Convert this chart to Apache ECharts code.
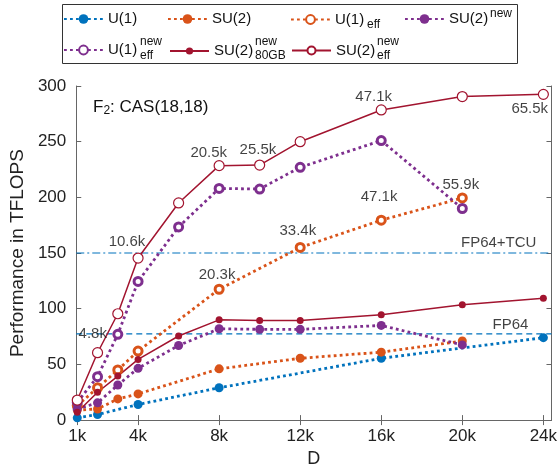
<!DOCTYPE html>
<html>
<head>
<meta charset="utf-8">
<script src="https://cdn.jsdelivr.net/npm/echarts@6/dist/echarts.min.js"></script>
<style>
  html, body { margin: 0; padding: 0; background: #fff; }
  #chart { width: 560px; height: 473px; }
</style>
</head>
<body>
<div id="chart"></div>
<script>
// Performance vs bond dimension D
const FONT = 'Liberation Sans, Arial, Helvetica, sans-serif'

const xTicks = [1000, 4000, 8000, 12000, 16000, 20000, 24000]
const xRange = [950, 24400]

const dU1 = [1000, 2000, 4000, 8000, 16000, 24000]
const valU1 = [2, 5, 14, 29, 55.5, 74]

const dSU2 = [1000, 2000, 3000, 4000, 8000, 12000, 16000, 20000]
const valSU2 = [9, 10, 19, 23.5, 46, 55.5, 61, 71]
const valU1eff = [13, 29, 45, 62, 117.5, 155, 179.5, 199.5]

const dNew = [1000, 2000, 3000, 4000, 6000, 8000, 10000, 12000, 16000, 20000]
const valSU2new = [10, 15.5, 31.5, 46.5, 67, 82, 81.5, 81.5, 85, 67.5]
const valU1newEff = [16, 39, 77, 124.5, 173.5, 208, 207.5, 227, 251, 190]

const dNew80 = [1000, 2000, 3000, 4000, 6000, 8000, 10000, 12000, 16000, 20000, 24000]
const valSU2new80 = [7, 25, 39.5, 54.5, 75.5, 90, 89.5, 89.5, 94.5, 103.5, 109.5]
const valSU2newEff = [18, 60.5, 95.5, 145.5, 195, 228.5, 229, 250, 278.5, 290.5, 292.5]

// hardware peaks: FP64+TCU, FP64
const refVals = [150, 77.5]

// text notes (data coordinates)
const noteD = [1762, 3454, 7487, 9916, 15626, 23328, 19926, 15893, 11884, 7900, 21797, 22380]
const noteVal = [77.8, 159.7, 240.2, 243.1, 290.5, 279.5, 211, 200.3, 170, 130.2, 158.8, 85.5]
const noteText = ['4.8k', '10.6k', '20.5k', '25.5k', '47.1k', '65.5k', '55.9k', '47.1k', '33.4k', '20.3k', 'FP64+TCU', 'FP64']

const BLUE = '#0072BD', ORANGE = '#D95319', PURPLE = '#7E2F8E', RED = '#A2142F'

function pairs(xs, ys) {
  return xs.map((x, i) => [x, ys[i]])
}

// hollow markers are drawn as white circles with a coloured border,
// emptyCircle always gets a 2px stroke
function dotted(name, xs, ys, color, hollow, size, bw) {
  return {
    name: name, type: 'line', data: pairs(xs, ys),
    symbol: 'circle', symbolSize: size,
    lineStyle: { color: color, width: 2.8, type: [2.8, 3.2] },
    itemStyle: { color: hollow ? '#fff' : color, borderColor: color, borderWidth: bw },
    emphasis: { disabled: true },
    animation: false
  }
}

function solid(name, xs, ys, hollow, size, bw) {
  return {
    name: name, type: 'line', data: pairs(xs, ys),
    symbol: 'circle', symbolSize: size,
    lineStyle: { color: RED, width: 1.5, type: 'solid' },
    itemStyle: { color: hollow ? '#fff' : RED, borderColor: RED, borderWidth: bw },
    emphasis: { disabled: true },
    animation: false
  }
}

function refLine(name, v, width, dash) {
  return {
    name: name, type: 'line', silent: true, animation: false, z: 1,
    data: [[xRange[0], v], [xRange[1], v]],
    symbol: 'none',
    lineStyle: { color: BLUE, width: width, type: dash },
    itemStyle: { color: BLUE },
    emphasis: { disabled: true }
  }
}

const series = [
  refLine('ref_tcu', refVals[0], 1.1, [8, 3, 2, 3]),
  refLine('ref_fp64', refVals[1], 1.3, [6, 4]),
  dotted('U(1)', dU1, valU1, BLUE, false, 9, 0),
  dotted('SU(2)', dSU2, valSU2, ORANGE, false, 9, 0),
  dotted('U(1)_eff', dSU2, valU1eff, ORANGE, true, 8, 3),
  dotted('SU(2)_new', dNew, valSU2new, PURPLE, false, 9, 0),
  dotted('U(1)_new_eff', dNew, valU1newEff, PURPLE, true, 8, 3),
  solid('SU(2)_new_80GB', dNew80, valSU2new80, false, 7, 0),
  solid('SU(2)_new_eff', dNew80, valSU2newEff, true, 10, 1.2),
  {
    name: 'notes', type: 'scatter', silent: true, animation: false,
    symbolSize: 0, z: 5,
    data: noteD.map((d, i) => ({ value: [d, noteVal[i]], label: { formatter: noteText[i] } })),
    label: { show: true, position: 'inside', color: '#111', fontSize: 15, fontFamily: FONT, textBorderWidth: 0 }
  }
]

// legend: one component per entry, laid out like the original box
const legendItems = [
  { name: 'U(1)', text: 'U(1)', left: 63, row: 0, h: 12 },
  { name: 'SU(2)', text: 'SU(2)', left: 167, row: 0, h: 12 },
  { name: 'U(1)_eff', text: 'U(1)', left: 290, row: 0, h: 11 },
  { name: 'SU(2)_new', text: 'SU(2)', left: 404, row: 0, h: 12 },
  { name: 'U(1)_new_eff', text: 'U(1)', left: 63, row: 1, h: 11 },
  { name: 'SU(2)_new_80GB', text: 'SU(2)', left: 169, row: 1, h: 9 },
  { name: 'SU(2)_new_eff', text: 'SU(2)', left: 291, row: 1, h: 10 }
]
const rowY = [17.5, 48]

const legends = legendItems.map(it => ({
  data: [it.name],
  left: it.left, top: rowY[it.row] - it.h / 2,
  itemWidth: 39, itemHeight: it.h, padding: 0,
  selectedMode: false,
  formatter: () => it.text,
  textStyle: { fontSize: 15, color: '#111', fontFamily: FONT }
}))

const scripts = [
  ['eff', 367, 25], ['new', 490, 14],
  ['new', 140, 41.5], ['eff', 140, 55.5],
  ['new', 255, 41.5], ['80GB', 255, 55.5],
  ['new', 377, 41.5], ['eff', 377, 55.5]
]

const chart = echarts.init(document.getElementById('chart'), null, { renderer: 'canvas' })

chart.setOption({
  backgroundColor: '#fff',
  animation: false,
  textStyle: { fontFamily: FONT },
  title: {
    text: '{a|F}{s|2}{a|: CAS(18,18)}',
    left: 93, top: 97, padding: 0,
    textStyle: {
      fontWeight: 'normal',
      rich: {
        a: { fontSize: 17, lineHeight: 20, fontWeight: 'normal', color: '#111', fontFamily: FONT },
        s: { fontSize: 12, lineHeight: 12, fontWeight: 'normal', verticalAlign: 'bottom', color: '#111', fontFamily: FONT }
      }
    }
  },
  legend: legends,
  graphic: [
    {
      type: 'rect', z: 1, silent: true,
      shape: { x: 62.5, y: 4.5, width: 455, height: 59 },
      style: { fill: '#fff', stroke: '#333', lineWidth: 1 }
    }
  ].concat(scripts.map(s => ({
    type: 'text', z: 10, silent: true,
    style: { text: s[0], x: s[1], y: s[2], fontSize: 12, fontFamily: FONT, fill: '#111', verticalAlign: 'middle' }
  }))),
  grid: { left: 72, right: 5, top: 86, bottom: 47 },
  xAxis: [
    {
      type: 'value', min: xRange[0], max: xRange[1], position: 'bottom',
      name: 'D', nameLocation: 'middle', nameGap: 28,
      nameTextStyle: { fontSize: 18, color: '#222', fontFamily: FONT },
      axisLine: { show: true, lineStyle: { color: '#666', width: 1 } },
      axisTick: { show: true, inside: true, length: 5, customValues: xTicks, lineStyle: { color: '#666' } },
      axisLabel: { customValues: xTicks, fontSize: 17, color: '#222', margin: 8, formatter: v => (v / 1000) + 'k' },
      splitLine: { show: false }
    },
    {
      type: 'value', min: xRange[0], max: xRange[1], position: 'top',
      axisLine: { show: true, lineStyle: { color: '#666', width: 1 } },
      axisTick: { show: true, inside: true, length: 5, customValues: xTicks, lineStyle: { color: '#666' } },
      axisLabel: { show: false },
      splitLine: { show: false }
    }
  ],
  yAxis: [
    {
      type: 'value', min: 0, max: 300, interval: 50, position: 'left',
      name: 'Performance in TFLOPS', nameLocation: 'middle', nameGap: 46,
      nameTextStyle: { fontSize: 19, color: '#222', fontFamily: FONT },
      axisLine: { show: true, lineStyle: { color: '#666', width: 1 } },
      axisTick: { show: true, inside: true, length: 5, lineStyle: { color: '#666' } },
      axisLabel: { fontSize: 17, color: '#222', margin: 10 },
      splitLine: { show: false }
    },
    {
      type: 'value', min: 0, max: 300, interval: 50, position: 'right',
      axisLine: { show: true, lineStyle: { color: '#666', width: 1 } },
      axisTick: { show: true, inside: true, length: 5, lineStyle: { color: '#666' } },
      axisLabel: { show: false },
      splitLine: { show: false }
    }
  ],
  series: series
})
</script>
</body>
</html>
